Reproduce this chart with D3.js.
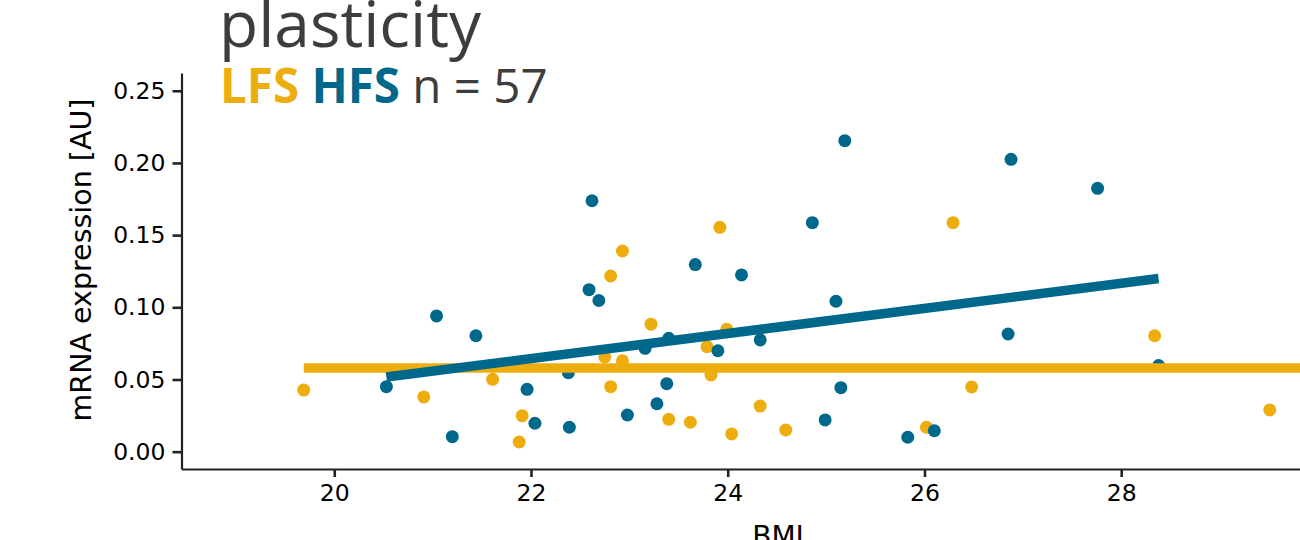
<!DOCTYPE html>
<html lang="en">
<head>
<meta charset="UTF-8">
<title>plasticity - BMI</title>
<script src="https://d3js.org/d3.v7.min.js"></script>
<style>
    body { margin: 0; background: #fff; }
    svg { display: block; }
    .axis text { font-family: "DejaVu Sans", sans-serif; font-size: 23.5px; fill: #000; }
    .axis line, .axis path { stroke: #222; }
</style>
</head>
<body>
<svg id="chart" width="1300" height="540"></svg>
<script>
// LFS (orange) points
var lfsBmi = [19.69, 20.91, 21.61, 21.91, 21.88, 22.81, 22.93, 22.75, 22.81, 22.93, 23.22, 23.40, 23.62,
              23.79, 23.83, 23.92, 23.99, 24.04, 24.33, 24.59, 26.02, 26.29, 26.48, 28.34, 29.51];
var lfsExpr = [0.0427, 0.0379, 0.0501, 0.0249, 0.0067, 0.1217, 0.1390, 0.0657, 0.0450, 0.0630, 0.0883, 0.0224, 0.0204,
               0.0727, 0.0531, 0.1554, 0.0848, 0.0123, 0.0316, 0.0150, 0.0169, 0.1586, 0.0448, 0.0803, 0.0289];
// HFS (blue) points
var hfsBmi = [20.53, 21.04, 21.20, 21.44, 21.96, 22.04, 22.38, 22.39, 22.59, 22.62, 22.69, 22.98, 23.16, 23.28,
              23.38, 23.40, 23.67, 23.90, 24.14, 24.33, 24.86, 24.99, 25.10, 25.15, 25.19, 25.83, 26.10, 26.85,
              26.88, 27.76, 28.38];
var hfsExpr = [0.0450, 0.0940, 0.0104, 0.0803, 0.0432, 0.0197, 0.0547, 0.0169, 0.1122, 0.1738, 0.1047, 0.0254, 0.0716, 0.0332,
               0.0471, 0.0785, 0.1296, 0.0699, 0.1224, 0.0774, 0.1586, 0.0220, 0.1042, 0.0443, 0.2154, 0.0100, 0.0145, 0.0815,
               0.2025, 0.1824, 0.0597];
// fitted lines (end points)
var lfsFitX = [19.69, 30.58], lfsFitY = [0.0580, 0.0580];
var hfsFitX = [20.53, 28.38], hfsFitY = [0.0517, 0.1199];

var xTicks = [20, 22, 24, 26, 28];
var yTicks = [0, 0.05, 0.10, 0.15, 0.20, 0.25];

var orange = "#EEAD0E", blue = "#00688B";

var margin = {top: 73, left: 181.5},
    width = 1375 - margin.left,
    height = 469 - margin.top;

var svg = d3.select("#chart");
var g = svg.append("g").attr("transform", "translate(" + margin.left + "," + margin.top + ")");

var x = d3.scaleLinear().domain([18.447, 30.58]).range([0, width]);
var y = d3.scaleLinear().domain([-0.012, 0.2623]).range([height, 0]);

// axes
g.append("g")
    .attr("class", "axis")
    .attr("transform", "translate(0," + height + ")")
    .call(d3.axisBottom(x).tickValues(xTicks).tickSize(8).tickPadding(7).tickSizeOuter(0));
g.append("g")
    .attr("class", "axis")
    .call(d3.axisLeft(y).tickValues(yTicks).tickFormat(d3.format(".2f")).tickSize(9).tickPadding(7).tickSizeOuter(0));
g.selectAll(".axis path").attr("stroke-width", 2.2);
g.selectAll(".axis line").attr("stroke-width", 2.6).attr("stroke", "#333");

// axis titles
svg.append("text")
    .attr("transform", "rotate(-90)")
    .attr("x", -260)
    .attr("y", 91)
    .style("text-anchor", "middle")
    .style("font-family", "DejaVu Sans, sans-serif")
    .style("font-size", "28.5px")
    .text("mRNA expression [AU]");
svg.append("text")
    .attr("x", 778)
    .attr("y", 546)
    .style("text-anchor", "middle")
    .style("font-family", "DejaVu Sans, sans-serif")
    .style("font-size", "28px")
    .text("BMI");

// points
g.selectAll(".lfs")
    .data(d3.range(lfsBmi.length))
  .enter().append("circle")
    .attr("class", "lfs")
    .attr("r", 6.5)
    .attr("cx", function(i) { return x(lfsBmi[i]); })
    .attr("cy", function(i) { return y(lfsExpr[i]); })
    .attr("fill", orange);
g.selectAll(".hfs")
    .data(d3.range(hfsBmi.length))
  .enter().append("circle")
    .attr("class", "hfs")
    .attr("r", 6.5)
    .attr("cx", function(i) { return x(hfsBmi[i]); })
    .attr("cy", function(i) { return y(hfsExpr[i]); })
    .attr("fill", blue);

// fit lines
var line = d3.line().x(function(d) { return x(d[0]); }).y(function(d) { return y(d[1]); });
g.append("path")
    .attr("d", line(d3.zip(lfsFitX, lfsFitY)))
    .attr("stroke", orange).attr("stroke-width", 9.5).attr("fill", "none");
g.append("path")
    .attr("d", line(d3.zip(hfsFitX, hfsFitY)))
    .attr("stroke", blue).attr("stroke-width", 9.5).attr("fill", "none");

// title
svg.append("text")
    .attr("x", 219)
    .attr("y", 47)
    .style("font-family", "Open Sans, sans-serif")
    .style("font-size", "64px")
    .style("fill", "#3d3d3d")
    .text("plasticity");
var sub = svg.append("text")
    .attr("x", 220)
    .attr("y", 103)
    .style("font-family", "Open Sans, sans-serif")
    .style("font-size", "47.5px");
sub.append("tspan").style("font-weight", "bold").style("fill", orange).text("LFS ");
sub.append("tspan").style("font-weight", "bold").style("fill", blue).text("HFS ");
sub.append("tspan").style("fill", "#3d3d3d").text("n = 57");
</script>
</body>
</html>
